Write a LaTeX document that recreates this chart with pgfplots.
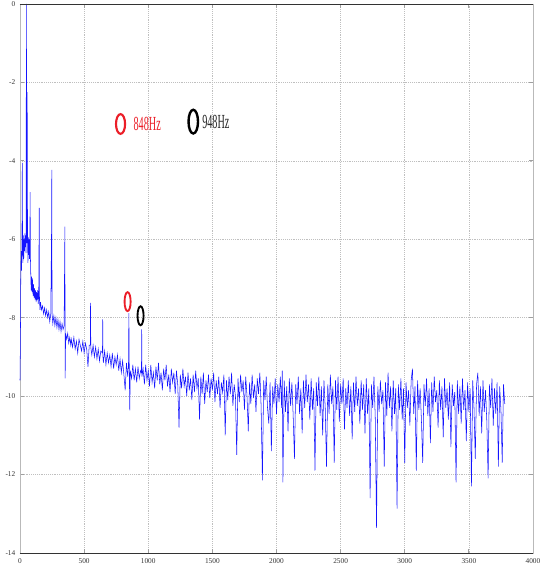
\documentclass[border=0pt]{standalone}
\usepackage{pgfplots}
\pgfplotsset{compat=1.18}
\usepackage{fontspec}
\setmainfont{Liberation Serif}
\definecolor{mkred}{RGB}{235,30,40}
\definecolor{specblue}{RGB}{20,20,255}
\begin{document}
\begin{tikzpicture}
\begin{axis}[
  scale only axis,
  width=384.75pt, height=411.75pt,
  xmin=0, xmax=4000, ymin=-14, ymax=0,
  xtick={0,500,...,4000}, ytick={-14,-12,...,0},
  scaled ticks=false,
  grid=major, grid style={densely dotted, gray!50, line width=0.4pt},
  axis line style={gray!55, line width=0.7pt},
  tick style={gray!75, line width=0.6pt},
  major tick length=3pt, tick align=inside,
  /pgf/number format/assume math mode=true,
  /pgf/number format/1000 sep={},
  tick label style={font=\fontsize{5.5}{6}\selectfont, text=black!80},
  xticklabel style={yshift=-0.5pt},
  clip=false
]
\addplot[specblue, line width=0.4pt, mark=none] coordinates {
(0,-9.6) (3,-8.7) (6,-7.0) (9,-6.3) (12,-6.8) (15,-6.1) (18,-4.05) (20,-6.2) (23,-6.6) (26,-5.9)
(29,-6.5) (32,-6.0) (35,-6.3) (38,-5.85) (41,-6.2) (44,-5.9) (47,-6.35) (50,0) (53,-6.1) (56,-2.25)
(59,-6.05) (62,-6.6) (65,-5.95) (68,-6.4) (71,-6.0) (74,-6.5) (77,-6.2) (79,-4.8) (81,-6.4) (84,-6.9)
(87,-7.3) (90,-6.95) (94,-7.35) (98,-7.0) (102,-7.45) (106,-7.15) (110,-7.5) (114,-7.25) (118,-7.55) (122,-7.3)
(126,-7.6) (130,-7.35) (134,-7.55) (138,-7.3) (142,-7.65) (146,-7.4) (150,-5.2) (152,-7.55) (156,-7.8)
(160,-7.6) (168,-7.8) (176,-7.7) (184,-7.9) (192,-7.75) (200,-7.95) (208,-7.8) (216,-8.0) (224,-7.85) (232,-8.1)
(240,-7.9) (246,-5.78) (248,-4.23) (250,-7.9) (256,-8.15) (264,-7.95) (272,-8.2) (280,-8.0) (288,-8.25) (296,-8.05)
(304,-8.3) (312,-8.1) (320,-8.35) (328,-8.15) (336,-8.3) (344,-8.2) (350,-5.68) (352,-9.55) (356,-8.4) (364,-8.55)
(372,-8.4) (380,-8.65) (388,-8.5) (396,-8.7)
(400,-8.55) (410,-8.75) (420,-8.5) (430,-8.8) (440,-8.6) (450,-8.9) (460,-8.55) (470,-8.7) (480,-8.85) (490,-8.6)
(500,-8.9) (510,-8.65) (520,-8.8) (530,-9.25) (540,-8.7) (548,-8.7) (550,-7.62) (552,-8.75) (560,-8.95) (570,-8.7)
(580,-9.0) (590,-8.75) (600,-9.05) (610,-8.8) (620,-9.1) (630,-8.85) (643,-8.9) (645,-8.04) (647,-9.0) (650,-9.15)
(660,-8.85) (670,-9.2) (680,-8.9) (690,-9.15) (700,-8.95) (710,-9.25) (720,-8.9) (730,-9.3) (740,-9.0) (750,-9.2)
(760,-8.95) (770,-9.35) (780,-9.05) (790,-9.4) (800,-9.1) (810,-9.45) (820,-9.85) (830,-9.15) (840,-9.5) (846,-9.2)
(849,-7.88) (852,-9.3) (856,-10.36) (860,-9.35) (870,-9.55) (880,-9.2) (890,-9.6) (900,-9.3) (910,-9.65) (920,-9.25)
(930,-9.55) (940,-9.35) (947,-9.4) (949,-8.3) (951,-9.5) (960,-9.3) (970,-9.7) (980,-9.2) (990,-9.6) (1000,-9.35)
(1010,-9.75) (1020,-9.2) (1030,-9.65) (1040,-9.4) (1050,-9.8) (1060,-9.25) (1070,-9.6) (1080,-9.15) (1090,-9.7) (1100,-9.4)
(1110,-9.85) (1120,-9.3) (1130,-9.6) (1140,-9.2) (1150,-9.75) (1160,-9.45) (1170,-9.9) (1180,-9.3) (1190,-9.65) (1200,-9.4)
(1210,-9.95) (1220,-9.35) (1230,-9.7) (1240,-10.8) (1250,-9.45) (1260,-9.8) (1270,-9.3) (1280,-9.75) (1290,-9.5) (1300,-10.0)
(1310,-9.4) (1320,-9.85) (1330,-9.55) (1340,-10.1) (1350,-9.45) (1360,-9.9) (1370,-9.35) (1380,-9.8) (1390,-9.55) (1400,-10.6)
(1410,-9.5) (1420,-9.95) (1430,-9.4) (1440,-10.2) (1450,-9.6) (1460,-9.9) (1470,-9.45) (1480,-10.05) (1490,-9.55) (1500,-9.85)
(1510,-9.4) (1520,-10.15) (1530,-9.6) (1540,-9.95) (1550,-9.5) (1560,-10.3) (1570,-9.65) (1580,-9.9) (1590,-9.45) (1600,-11.0)
(1610,-9.6) (1620,-10.1) (1630,-9.5) (1640,-9.95) (1650,-9.4) (1660,-10.25) (1670,-9.7) (1680,-10.0) (1690,-11.5) (1700,-9.55)
(1710,-10.15) (1720,-9.45) (1730,-9.9) (1740,-9.6) (1750,-10.35) (1760,-9.5) (1770,-10.0) (1780,-10.9) (1790,-9.65) (1800,-10.2)
(1810,-9.45) (1820,-10.05) (1830,-9.7) (1840,-10.4) (1850,-9.55) (1860,-9.95) (1870,-9.4) (1880,-10.25) (1890,-12.15) (1900,-9.6)
(1910,-10.1) (1920,-9.5) (1930,-10.3) (1940,-10.7) (1950,-9.65) (1960,-11.4) (1970,-9.75) (1980,-10.2) (1990,-9.55) (2000,-10.45)
(2010,-9.7) (2020,-10.15) (2030,-9.5) (2040,-10.3) (2045,-9.35) (2050,-12.2) (2060,-9.6) (2070,-10.4) (2080,-9.75) (2090,-10.9)
(2100,-9.55) (2110,-10.25) (2120,-9.65) (2130,-10.5) (2140,-11.6) (2150,-9.7) (2160,-10.2) (2170,-9.5) (2180,-10.45) (2190,-9.8)
(2200,-10.95) (2210,-9.6) (2220,-10.3) (2230,-9.45) (2240,-10.15) (2250,-9.7) (2260,-10.6) (2270,-9.55) (2280,-10.35) (2290,-9.8)
(2300,-11.9) (2310,-9.65) (2320,-10.25) (2330,-9.5) (2340,-10.5) (2350,-9.75) (2360,-11.0) (2370,-9.6) (2380,-10.3) (2390,-11.8)
(2400,-9.7) (2410,-10.45) (2420,-9.45) (2430,-10.2) (2440,-9.75) (2450,-11.7) (2460,-9.6) (2470,-10.35) (2480,-9.5) (2490,-10.65)
(2500,-9.7) (2510,-10.2) (2520,-9.55) (2530,-10.85) (2540,-9.8) (2550,-10.3) (2560,-9.6) (2570,-10.5) (2580,-9.75) (2590,-11.1)
(2600,-9.65) (2610,-10.4) (2620,-9.5) (2630,-10.25) (2640,-9.8) (2650,-10.7) (2660,-9.6) (2670,-10.35) (2680,-9.7) (2690,-10.95)
(2700,-9.55) (2710,-10.45) (2720,-9.8) (2730,-12.6) (2740,-9.7) (2750,-10.3) (2760,-9.5) (2770,-10.55) (2780,-13.36) (2790,-9.75)
(2800,-10.4) (2810,-9.6) (2820,-10.2) (2830,-9.85) (2840,-11.8) (2850,-9.65) (2860,-10.5) (2870,-9.4) (2880,-10.3) (2890,-9.75)
(2900,-10.9) (2910,-9.6) (2920,-10.45) (2930,-9.8) (2940,-12.87) (2950,-9.7) (2960,-10.35) (2970,-9.55) (2980,-10.6) (2990,-9.8)
(3000,-11.7) (3010,-9.65) (3020,-10.3) (3030,-9.85) (3040,-10.75) (3050,-9.6) (3060,-9.3) (3070,-10.45) (3080,-9.75) (3090,-11.9)
(3100,-9.6) (3110,-10.35) (3120,-9.8) (3130,-10.6) (3140,-11.7) (3150,-9.7) (3160,-10.25) (3170,-9.55) (3180,-10.5) (3190,-9.8)
(3200,-11.2) (3210,-9.65) (3220,-10.4) (3230,-9.5) (3240,-10.15) (3250,-9.85) (3260,-10.8) (3270,-9.6) (3280,-10.35) (3290,-9.75)
(3300,-11.05) (3310,-9.55) (3320,-10.3) (3330,-9.8) (3340,-10.6) (3350,-9.65) (3360,-11.3) (3370,-9.7) (3380,-10.25) (3390,-9.9)
(3400,-12.2) (3410,-9.6) (3420,-10.45) (3430,-9.75) (3440,-10.7) (3450,-9.55) (3460,-10.35) (3470,-9.85) (3480,-11.15) (3490,-9.65)
(3500,-10.4) (3510,-9.8) (3520,-12.3) (3530,-9.6) (3540,-10.3) (3550,-11.6) (3560,-9.7) (3570,-9.4) (3580,-10.5) (3590,-9.75)
(3600,-10.95) (3610,-9.6) (3620,-10.4) (3630,-9.85) (3640,-10.65) (3650,-12.1) (3660,-9.7) (3670,-10.3) (3680,-9.55) (3690,-10.75)
(3700,-9.8) (3710,-10.45) (3720,-9.65) (3730,-11.8) (3740,-9.75) (3750,-10.35) (3760,-11.7) (3770,-9.7) (3780,-10.2)
};
% circles marking the two peaks, and the key above them
\addplot[mkred, only marks, mark=o, mark size=7.4pt, mark options={xscale=0.46, line width=1.6pt}] coordinates {(784,-3.06)};
\addplot[black, only marks, mark=o, mark size=8.9pt, mark options={xscale=0.40, line width=1.8pt}] coordinates {(1351,-3.0)};
\addplot[mkred, only marks, mark=o, mark size=7.1pt, mark options={xscale=0.32, line width=1.4pt}] coordinates {(839,-7.59)};
\addplot[black, only marks, mark=o, mark size=7.1pt, mark options={xscale=0.32, line width=1.4pt}] coordinates {(940,-7.95)};
\node[anchor=west, inner sep=0pt, text=mkred, xscale=0.51] at (axis cs:885,-3.06) {\fontsize{15}{15}\selectfont 848Hz};
\node[anchor=west, inner sep=0pt, text=black!85, xscale=0.51] at (axis cs:1420,-3.0) {\fontsize{15}{15}\selectfont 948Hz};
\draw[black!80, line width=0.7pt] (rel axis cs:0,1) -- (rel axis cs:1,1);
\draw[black!80, line width=0.7pt] (rel axis cs:0,0) -- (rel axis cs:1,0);
\coordinate (sw) at (rel axis cs:0,0);
\coordinate (ne) at (rel axis cs:1,1);
\end{axis}
\pgfresetboundingbox
\path ([shift={(-15pt,-14.25pt)}]sw) rectangle ([shift={(8.25pt,3pt)}]ne);
\end{tikzpicture}
\end{document}
